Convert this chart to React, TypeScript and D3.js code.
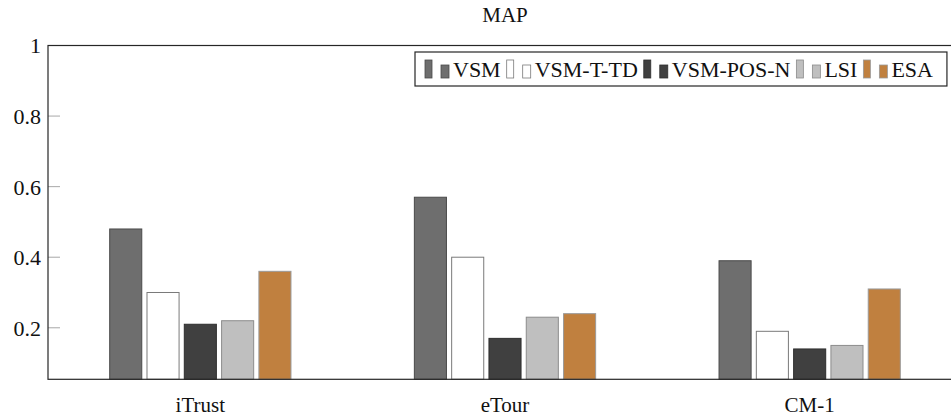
import React, { useEffect, useRef } from "react";
import * as d3 from "d3";

const categories = ["iTrust", "eTour", "CM-1"];
const seriesNames = ["VSM", "VSM-T-TD", "VSM-POS-N", "LSI", "ESA"];
const vsm = [0.48, 0.57, 0.39];
const vsmTTD = [0.3, 0.4, 0.19];
const vsmPosN = [0.21, 0.17, 0.14];
const lsi = [0.22, 0.23, 0.15];
const esa = [0.36, 0.24, 0.31];
const yTicks = [0.2, 0.4, 0.6, 0.8, 1];
const title = "MAP";

const seriesValues = [vsm, vsmTTD, vsmPosN, lsi, esa];
const fills = ["#6e6e6e", "#ffffff", "#404040", "#bfbfbf", "#c0803f"];
const strokes = ["#4a4a4a", "#7a7a7a", "#2e2e2e", "#8c8c8c", "#9a9a9a"];

const W = 951;
const H = 419;
const FONT = "Liberation Serif";

export default function App() {
  const ref = useRef<SVGSVGElement | null>(null);

  useEffect(() => {
    const svg = d3.select(ref.current);
    svg.selectAll("*").remove();

    const left = 48, right = 962, top = 45.5, bottom = 379.3;
    const x = d3.scaleBand().domain(categories).range([left, right]).padding(0);
    const pitch = 37.3;
    const inner = d3
      .scaleBand()
      .domain(seriesNames)
      .range([(-seriesNames.length * pitch) / 2, (seriesNames.length * pitch) / 2])
      .paddingInner(0.14)
      .paddingOuter(0.07);
    const y = d3.scaleLinear().domain([0.054, 1]).range([bottom, top]);

    svg
      .append("text")
      .attr("x", (left + right) / 2)
      .attr("y", 22)
      .attr("text-anchor", "middle")
      .style("font-family", FONT)
      .style("font-size", "21px")
      .attr("fill", "#111")
      .text(title);

    seriesNames.forEach((s, si) => {
      svg
        .append("g")
        .selectAll("rect")
        .data(categories)
        .join("rect")
        .attr("x", (c) => (x(c) as number) + x.bandwidth() / 2 + (inner(s) as number))
        .attr("width", inner.bandwidth())
        .attr("y", (c, i) => y(seriesValues[si][i]))
        .attr("height", (c, i) => bottom - y(seriesValues[si][i]))
        .attr("fill", fills[si])
        .attr("stroke", strokes[si])
        .attr("stroke-width", 1);
    });

    const g = svg.append("g");
    yTicks.forEach((t) => {
      g.append("line")
        .attr("x1", left)
        .attr("x2", left + 12)
        .attr("y1", y(t))
        .attr("y2", y(t))
        .attr("stroke", "#a8a8a8")
        .attr("stroke-width", 1);
      g.append("text")
        .attr("x", left - 7)
        .attr("y", y(t))
        .attr("dy", "0.36em")
        .attr("text-anchor", "end")
        .style("font-family", FONT)
        .style("font-size", "22px")
        .attr("fill", "#111")
        .text(d3.format("~g")(t));
    });

    svg
      .append("rect")
      .attr("x", left)
      .attr("y", top)
      .attr("width", right - left)
      .attr("height", bottom - top)
      .attr("fill", "none")
      .attr("stroke", "#262626")
      .attr("stroke-width", 1.2);

    categories.forEach((c) => {
      svg
        .append("text")
        .attr("x", (x(c) as number) + x.bandwidth() / 2)
        .attr("y", 412)
        .attr("text-anchor", "middle")
        .style("font-family", FONT)
        .style("font-size", "21px")
        .attr("fill", "#111")
        .text(c);
    });

    const lg = svg.append("g");
    const box = lg
      .append("rect")
      .attr("fill", "#fff")
      .attr("stroke", "#262626")
      .attr("stroke-width", 1.2);
    let cx = 425;
    seriesNames.forEach((s, si) => {
      lg.append("rect")
        .attr("x", cx)
        .attr("y", 60)
        .attr("width", 7)
        .attr("height", 18)
        .attr("fill", fills[si])
        .attr("stroke", strokes[si])
        .attr("stroke-width", 0.8);
      lg.append("rect")
        .attr("x", cx + 16)
        .attr("y", 65)
        .attr("width", 8)
        .attr("height", 13)
        .attr("fill", fills[si])
        .attr("stroke", strokes[si])
        .attr("stroke-width", 0.8);
      const t = lg
        .append("text")
        .attr("x", cx + 28)
        .attr("y", 77)
        .style("font-family", FONT)
        .style("font-size", "22px")
        .attr("fill", "#111")
        .text(s);
      const w = (t.node() as SVGTextElement).getComputedTextLength();
      cx = cx + 28 + w + 6;
    });
    box
      .attr("x", 415)
      .attr("y", 52)
      .attr("width", cx + 8 - 415)
      .attr("height", 34);
    box.lower();
  }, []);

  return (
    <div style={{ position: "absolute", left: 0, top: 0 }}>
      <svg ref={ref} width={W} height={H} style={{ display: "block", background: "#fff" }} />
    </div>
  );
}
